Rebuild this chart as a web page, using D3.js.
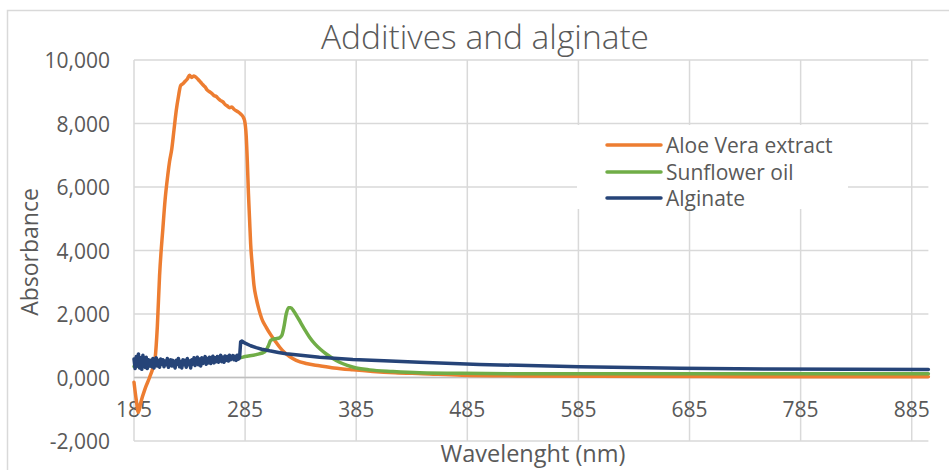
<!DOCTYPE html>
<html>
<head>
<meta charset="utf-8">
<script src="https://cdn.jsdelivr.net/npm/d3@7"></script>
<style>
  html, body { margin: 0; padding: 0; background: #fff; }
  svg { display: block; }
  text { font-family: "Open Sans", "DejaVu Sans", sans-serif; fill: #595959; }
</style>
</head>
<body>
<svg id="chart" width="949" height="470"></svg>
<script>
// ---------- DATA ----------
const chartTitle = "Additives and alginate";
const xAxisTitle = "Wavelenght (nm)";
const yAxisTitle = "Absorbance";
const seriesNames = ["Aloe Vera extract", "Sunflower oil", "Alginate"];
const seriesColors = ["#ED7D31", "#70AD47", "#264478"];

const xTicks = [185, 285, 385, 485, 585, 685, 785, 885];
const xTickLabels = ["185", "285", "385", "485", "585", "685", "785", "885"];
const yTicks = [-2, 0, 2, 4, 6, 8, 10];
const yTickLabels = ["-2,000", "0,000", "2,000", "4,000", "6,000", "8,000", "10,000"];

// Aloe Vera extract (values in thousands)
const aloeNm = [185, 187, 189, 191, 195, 199, 202, 204, 206, 208, 211, 213, 215.5, 217, 219, 221, 223, 225, 227, 229,
  231, 233, 235, 237, 239, 241, 243, 245, 247, 249, 251, 253, 255, 257, 259, 261, 263, 265, 267, 269,
  271, 273, 275, 277, 279, 281, 283, 284.5, 286, 287, 288, 289, 290, 291.5, 293, 295, 297, 300, 304, 308,
  312, 316, 320, 325, 331, 340, 352, 365, 382, 400, 420, 445, 480, 530, 600, 700, 800, 900];
const aloeVal = [-0.15, -0.7, -1.1, -0.8, -0.35, 0.0, 0.3, 0.6, 1.6, 3.2, 4.7, 5.6, 6.4, 6.8, 7.2, 7.8, 8.4, 8.85, 9.2, 9.25,
  9.33, 9.4, 9.52, 9.45, 9.5, 9.45, 9.38, 9.3, 9.22, 9.15, 9.05, 9.0, 8.95, 8.88, 8.85, 8.78, 8.72, 8.68, 8.6, 8.55,
  8.5, 8.52, 8.45, 8.4, 8.36, 8.3, 8.22, 8.1, 7.6, 6.8, 5.8, 5.0, 4.2, 3.5, 2.9, 2.5, 2.2, 1.85, 1.58, 1.35,
  1.15, 0.96, 0.8, 0.66, 0.54, 0.44, 0.37, 0.3, 0.24, 0.19, 0.15, 0.12, 0.07, 0.05, 0.04, 0.03, 0.02, 0.02];

// Sunflower oil
const oilNm = [185, 200, 220, 240, 260, 280, 285, 295, 303, 306, 308, 312, 316, 318, 320, 322, 324, 326, 329, 333,
  338, 343, 348, 353, 358, 364, 370, 377, 385, 397, 418, 442, 480, 550, 700, 900];
const oilVal = [0.35, 0.38, 0.45, 0.5, 0.58, 0.62, 0.66, 0.72, 0.82, 1.0, 1.17, 1.22, 1.25, 1.32, 1.6, 2.0, 2.2, 2.2, 2.08, 1.85,
  1.55, 1.27, 1.05, 0.88, 0.74, 0.6, 0.48, 0.38, 0.3, 0.24, 0.19, 0.15, 0.13, 0.12, 0.12, 0.12];

// Alginate
const algNm = [185, 186, 187, 188, 189, 190, 191, 192, 193, 194, 195, 196, 197, 198, 199,
  200, 201, 202, 203, 204, 205, 206, 207, 208, 209, 210, 211, 212, 213, 214, 215, 216, 217, 218, 219,
  220, 221, 222, 223, 224, 225, 226, 227, 228, 229, 230, 231, 232, 233, 234, 235, 236, 237, 238, 239,
  240, 241, 242, 243, 244, 245, 246, 247, 248, 249, 250, 251, 252, 253, 254, 255, 256, 257, 258, 259,
  260, 261, 262, 263, 264, 265, 266, 267, 268, 269, 270, 271, 272, 273, 274, 275, 276, 277, 278, 279, 280,
  281, 282, 285, 290, 295, 300, 307, 315, 322, 335, 352, 382, 410, 442, 496, 586, 676, 754, 830, 900];
const algVal = [0.58, 0.28, 0.66, 0.36, 0.74, 0.3, 0.62, 0.26, 0.7, 0.4, 0.32, 0.64, 0.28, 0.56, 0.36,
  0.54, 0.34, 0.6, 0.3, 0.5, 0.62, 0.36, 0.54, 0.32, 0.58, 0.42, 0.56, 0.34, 0.52, 0.4, 0.6, 0.32, 0.5, 0.56, 0.36,
  0.54, 0.4, 0.3, 0.54, 0.42, 0.6, 0.34, 0.5, 0.3, 0.56, 0.4, 0.54, 0.32, 0.6, 0.4, 0.52, 0.3, 0.56, 0.42, 0.62,
  0.38, 0.54, 0.64, 0.4, 0.58, 0.36, 0.62, 0.44, 0.56, 0.66, 0.42, 0.6, 0.46, 0.64, 0.44, 0.58, 0.67, 0.46, 0.62, 0.5,
  0.66, 0.48, 0.62, 0.7, 0.5, 0.64, 0.48, 0.68, 0.54, 0.66, 0.52, 0.7, 0.56, 0.62, 0.69, 0.56, 0.67, 0.54, 0.7, 0.58, 0.62,
  1.12, 1.15, 1.08, 1.0, 0.94, 0.89, 0.84, 0.79, 0.75, 0.7, 0.64, 0.57, 0.53, 0.48, 0.41, 0.34, 0.29, 0.27, 0.26, 0.25];

// ---------- CHART ----------
const svg = d3.select("#chart");
const x = d3.scaleLinear().domain([185, 900]).range([134, 928.4]);
const y = d3.scaleLinear().domain([-2, 10]).range([441, 60]);

// outer chart border
svg.append("rect").attr("x", 7.5).attr("y", 10.5).attr("width", 960).attr("height", 480)
  .attr("fill", "#fff").attr("stroke", "#d9d9d9").attr("stroke-width", 1.5);

// gridlines
const grid = svg.append("g");
grid.selectAll(".hg").data(yTicks).join("line")
  .attr("x1", x(185)).attr("x2", x(900))
  .attr("y1", d => y(d)).attr("y2", d => y(d))
  .attr("stroke", "#d9d9d9").attr("stroke-width", 1.5);
grid.selectAll(".vg").data(xTicks).join("line")
  .attr("x1", d => x(d)).attr("x2", d => x(d))
  .attr("y1", y(10)).attr("y2", y(-2))
  .attr("stroke", "#d9d9d9").attr("stroke-width", 1.5);
// zero axis line
svg.append("line").attr("x1", x(185)).attr("x2", x(900)).attr("y1", y(0)).attr("y2", y(0))
  .attr("stroke", "#bfbfbf").attr("stroke-width", 1.5);

// y tick labels
svg.append("g").selectAll("text").data(yTicks).join("text")
  .attr("x", 110).attr("y", d => y(d)).attr("text-anchor", "end")
  .attr("dominant-baseline", "central").attr("font-size", 21)
  .text((d, i) => yTickLabels[i]);

// x tick labels
svg.append("g").selectAll("text").data(xTicks).join("text")
  .attr("x", d => x(d)).attr("y", 409).attr("text-anchor", "middle")
  .attr("dominant-baseline", "central").attr("font-size", 21)
  .text((d, i) => xTickLabels[i]);

// series
const series = [
  { nm: aloeNm, val: aloeVal, curve: d3.curveMonotoneX },
  { nm: oilNm, val: oilVal, curve: d3.curveMonotoneX },
  { nm: algNm, val: algVal, curve: d3.curveLinear }
];
series.forEach((s, i) => {
  const pts = s.nm.map((n, j) => [n, s.val[j]]);
  const line = d3.line().x(d => x(d[0])).y(d => y(d[1])).curve(s.curve);
  svg.append("path").datum(pts).attr("d", line)
    .attr("fill", "none").attr("stroke", seriesColors[i]).attr("stroke-width", 3.5)
    .attr("stroke-linejoin", "round").attr("stroke-linecap", "round");
});

// legend
const lg = svg.append("g");
lg.append("rect").attr("x", 577).attr("y", 125).attr("width", 271).attr("height", 84).attr("fill", "#fff");
const legendY = [145, 172, 198];
seriesNames.forEach((n, i) => {
  lg.append("line").attr("x1", 607).attr("x2", 661).attr("y1", legendY[i]).attr("y2", legendY[i])
    .attr("stroke", seriesColors[i]).attr("stroke-width", 3.5).attr("stroke-linecap", "round");
  lg.append("text").attr("x", 666).attr("y", legendY[i]).attr("dominant-baseline", "central")
    .attr("font-size", 21).text(n);
});

// titles
svg.append("text").attr("x", 485).attr("y", 49).attr("text-anchor", "middle")
  .attr("font-size", 33.5).attr("font-weight", 300).text(chartTitle);
svg.append("text").attr("x", 533).attr("y", 462).attr("text-anchor", "middle")
  .attr("font-size", 23.5).text(xAxisTitle);
svg.append("text").attr("transform", "translate(38,252) rotate(-90)").attr("text-anchor", "middle")
  .attr("font-size", 23).text(yAxisTitle);
</script>
</body>
</html>
